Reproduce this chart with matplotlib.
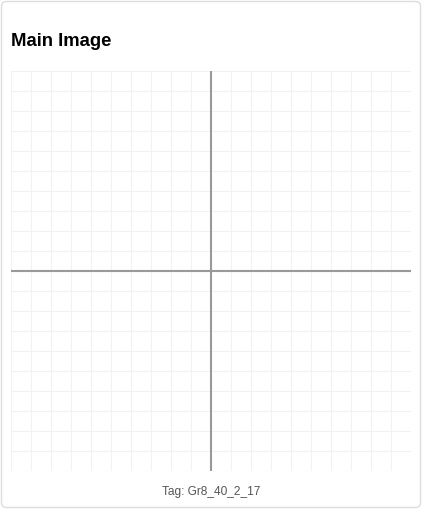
import matplotlib
matplotlib.use("Agg")
import matplotlib.pyplot as plt
from matplotlib.patches import FancyBboxPatch

# chart content
title = "Main Image"
tag = "Tag: Gr8_40_2_17"
x_range = [-10, 10]
y_range = [-10, 10]
grid_x = list(range(-10, 10))
grid_y = list(range(-9, 11))

W, H = 422, 509
fig = plt.figure(figsize=(W / 100, H / 100), dpi=100)
plt.rcParams['font.family'] = ['Liberation Sans', 'DejaVu Sans']

# card background in pixel coords
bg = fig.add_axes([0, 0, 1, 1])
bg.set_xlim(0, W)
bg.set_ylim(H, 0)
bg.axis("off")
bg.add_patch(FancyBboxPatch((1.5, 1.5), W - 3, H - 3, boxstyle="round,pad=0,rounding_size=5",
                            facecolor="white", edgecolor="#dddddd", linewidth=1))
bg.text(11, 46, title, fontsize=13.3, fontweight="bold", color="black", va="baseline", ha="left")
bg.text(211, 495.5, tag, fontsize=8.6, color="#555555", va="baseline", ha="center")

ax = fig.add_axes([11 / W, (H - 471) / H, 400 / W, 400 / H])
ax.set_xlim(x_range)
ax.set_ylim(y_range)
ax.patch.set_alpha(0)
for s in ax.spines.values():
    s.set_visible(False)
ax.set_xticks([])
ax.set_yticks([])
for gx in grid_x:
    ax.axvline(gx, color="#f2f2f2", linewidth=0.75, zorder=1)
for gy in grid_y:
    ax.axhline(gy, color="#f2f2f2", linewidth=0.75, zorder=1)
ax.axvline(0, color="#999999", linewidth=1.5, zorder=2)
ax.axhline(0, color="#999999", linewidth=1.5, zorder=2)

fig.savefig("out.png", dpi=100)
